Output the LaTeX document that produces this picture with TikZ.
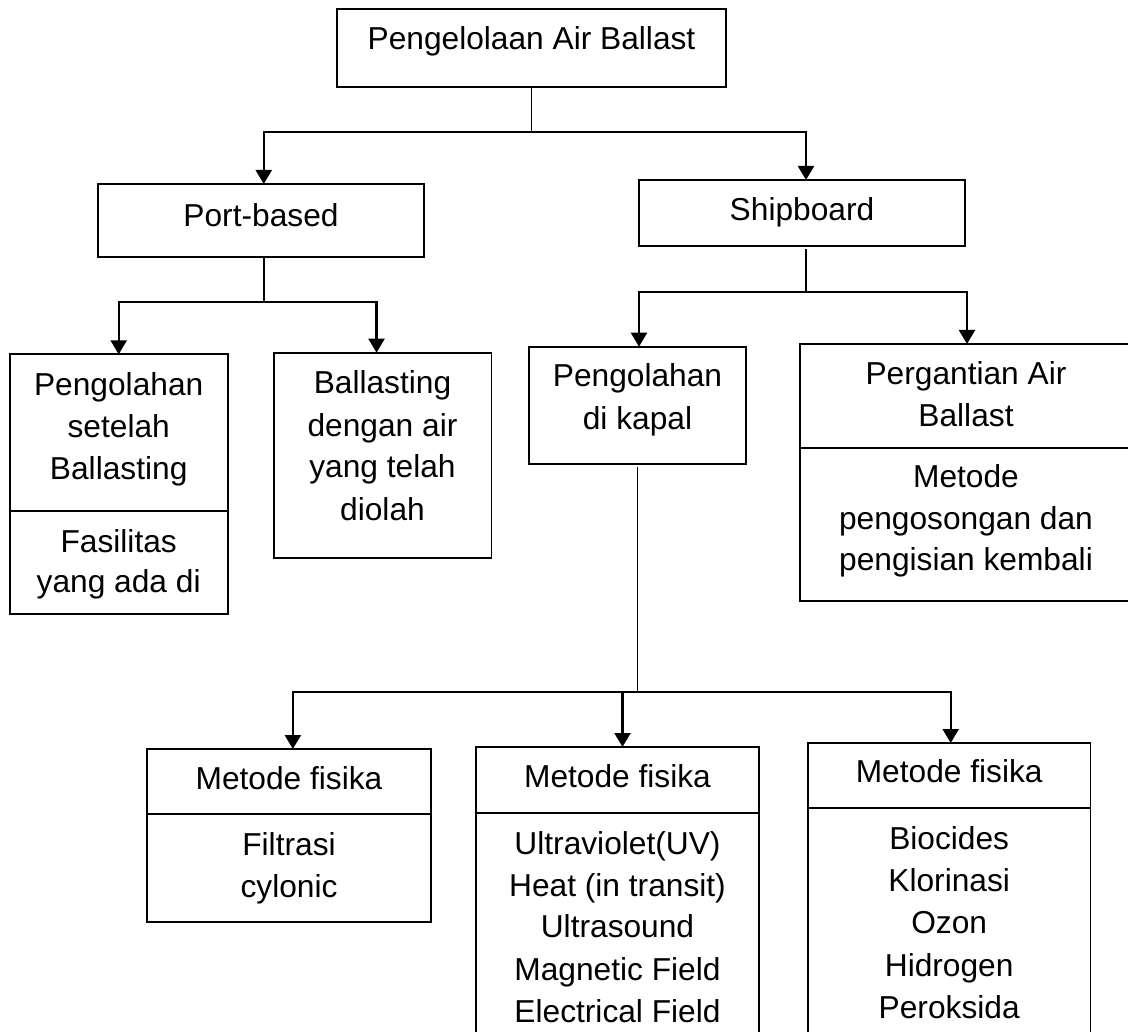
\documentclass[tikz,border=0pt]{standalone}
\usepackage{fontspec}
\setmainfont{Liberation Sans}
\usetikzlibrary{arrows.meta}
\begin{document}
\begin{tikzpicture}[x=1pt,y=-1pt,
  box/.style={draw=black,line width=1.7pt,inner sep=0pt,outer sep=0pt},
  txt/.style={anchor=base,inner sep=0pt,font=\fontsize{31.7}{42}\selectfont},
  plain/.style={line width=1.5pt},
  arr/.style={line width=2.2pt,-{Triangle[width=16pt,length=14pt]}},
  divider/.style={line width=1.7pt}]
\useasboundingbox (0,0) rectangle (1128,1032);
\clip (0,0) rectangle (1128,1032);
\fill[white] (0,0) rectangle (1128,1032);

% boxes
\node[box,minimum width=389pt,minimum height=77.7pt] (top) at (531.5,48.2) {};
\node[box,minimum width=326pt,minimum height=73pt] (port) at (260.75,220.5) {};
\node[box,minimum width=326pt,minimum height=66pt] (ship) at (802,213) {};
\node[box,minimum width=218pt,minimum height=259.7pt] (lbox) at (118.7,484.2) {};
\node[box,minimum width=217.7pt,minimum height=205pt] (mbox) at (382.55,455.2) {};
\node[box,minimum width=217pt,minimum height=117.6pt] (pbox) at (637.5,405.5) {};
\node[box,minimum width=332pt,minimum height=257pt] (gbox) at (966,472.5) {};
\node[box,minimum width=283.7pt,minimum height=172.7pt] (b1) at (288.85,835.35) {};
\node[box,minimum width=283pt,minimum height=303pt] (b2) at (617.5,898.5) {};
\node[box,minimum width=282.8pt,minimum height=307pt] (b3) at (949.2,896.5) {};

% dividers
\draw[divider] (lbox.west |- 0,511) -- (lbox.east |- 0,511);
\draw[divider] (gbox.west |- 0,448) -- (gbox.east |- 0,448);
\draw[divider] (b1.west |- 0,814) -- (b1.east |- 0,814);
\draw[divider] (b2.west |- 0,812.7) -- (b2.east |- 0,812.7);
\draw[divider] (b3.west |- 0,808) -- (b3.east |- 0,808);

% texts
\node[txt] (t0) at (531.5,50) {Pengelolaan Air Ballast};
\node[txt] (tp) at (261,226.5) {Port-based};
\node[txt] (ts) at (802,221) {Shipboard};

\node[txt] (l1) at (118.7,395.7) {Pengolahan};
\node[txt] (l2) at (118.7,437) {setelah};
\node[txt] (l3) at (118.7,479) {Ballasting};
\node[txt] (l4) at (118.7,552) {Fasilitas};
\node[txt] (l5) at (118.7,592) {yang ada di};

\node[txt] (m1) at (382.5,394) {Ballasting};
\node[txt] (m2) at (382.5,436) {dengan air};
\node[txt] (m3) at (382.5,477) {yang telah};
\node[txt] (m4) at (382.5,520) {diolah};

\node[txt] (p1) at (637.5,387) {Pengolahan};
\node[txt] (p2) at (637.5,429) {di kapal};

\node[txt] (g1) at (966,385) {Pergantian Air};
\node[txt] (g2) at (966,427) {Ballast};
\node[txt] (g3) at (966,487) {Metode};
\node[txt] (g4) at (966,529) {pengosongan dan};
\node[txt] (g5) at (966,570) {pengisian kembali};

\node[txt] (c1) at (289,789.3) {Metode fisika};
\node[txt] (c2) at (289,855) {Filtrasi};
\node[txt] (c3) at (289,897) {cylonic};

\node[txt] (d1) at (617.5,787.7) {Metode fisika};
\node[txt] (d2) at (617.5,854) {Ultraviolet(UV)};
\node[txt] (d3) at (617.5,896) {Heat (in transit)};
\node[txt] (d4) at (617.5,937.7) {Ultrasound};
\node[txt] (d5) at (617.5,980.7) {Magnetic Field};
\node[txt] (d6) at (617.5,1022) {Electrical Field};

\node[txt] (e1) at (949.2,782.7) {Metode fisika};
\node[txt] (e2) at (949.2,849) {Biocides};
\node[txt] (e3) at (949.2,891) {Klorinasi};
\node[txt] (e4) at (949.2,933) {Ozon};
\node[txt] (e5) at (949.2,976) {Hidrogen};
\node[txt] (e6) at (949.2,1018) {Peroksida};

% connectors
\coordinate (j0) at (531.5,132);
\draw[plain] (top.south) -- (top.south |- j0);
\draw[arr] (j0) -| ([xshift=3pt]port.north);
\draw[arr] (j0) -| ([xshift=4pt]ship.north);

\coordinate (j1) at (263.75,302);
\draw[plain] ([xshift=3pt]port.south) -- (j1);
\draw[arr] (j1) -| (lbox.north);
\draw[arr] (j1) -| ([xshift=-6pt]mbox.north);

\coordinate (j2) at (806,292);
\draw[plain] ([xshift=4pt,yshift=-3pt]ship.south) -- (j2);
\draw[arr] (j2) -| ([xshift=1.5pt]pbox.north);
\draw[arr] (j2) -| ([xshift=1pt]gbox.north);

\coordinate (j3) at (637.5,692);
\draw[plain] ([yshift=-3pt]pbox.south) -- (j3);
\draw[arr] (j3) -| ([xshift=4pt]b1.north);
\draw[arr] (j3) -| ([xshift=5pt]b2.north);
\draw[arr] (j3) -| ([xshift=1.5pt]b3.north);
\end{tikzpicture}
\end{document}
